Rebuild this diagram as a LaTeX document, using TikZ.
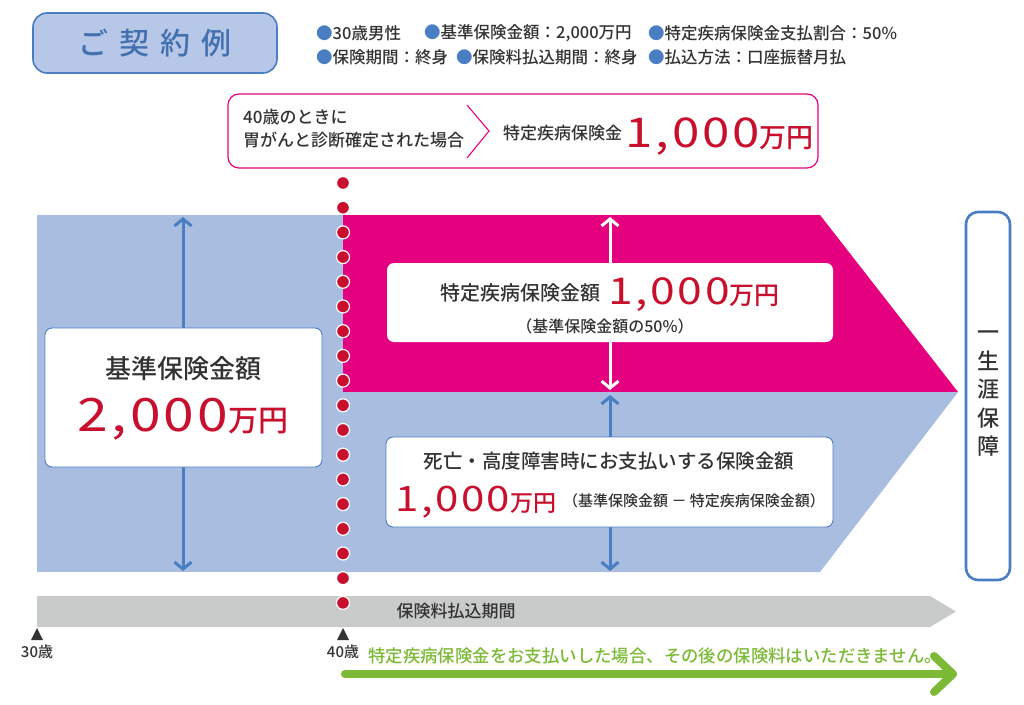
\documentclass[tikz,border=0pt]{standalone}
\usepackage{fontspec}
\setmainfont{Noto Sans CJK JP}[UprightFont={* Medium}]
\newfontfamily\numfont[LetterSpace=6]{Noto Sans CJK JP}
\usetikzlibrary{arrows.meta}
\definecolor{lb}{HTML}{A9BDE1}
\definecolor{tb}{HTML}{B7C7E7}
\definecolor{bl}{HTML}{4A7EC2}
\definecolor{mg}{HTML}{E4007F}
\definecolor{rd}{HTML}{C8102E}
\definecolor{gy}{HTML}{C9CACA}
\definecolor{gr}{HTML}{7CBA35}
\definecolor{dk}{HTML}{333333}
\newcommand{\fs}[1]{\fontsize{#1}{#1}\selectfont}
\newcommand{\manyen}[3]{\scalebox{1.2}[1]{\numfont\fs{#1}#3}{\fs{#2}万円}}
\newcommand{\bul}{\textcolor{bl}{●}}
\tikzset{
  x=1pt, y=-1pt,
  txt/.style={inner sep=0pt, text=dk},
  whitebox/.style={fill=white, rounded corners=7pt},
  dimarrow/.style={line width=3pt, {Straight Barb[length=7pt,width=17pt]}-{Straight Barb[length=7pt,width=17pt]}},
  dot/.style={circle, fill=rd, draw=white, line width=1.2pt, minimum size=13pt, inner sep=0pt},
}
\begin{document}
\begin{tikzpicture}
\useasboundingbox (0,0) rectangle (1024,704);
\fill[white] (0,0) rectangle (1024,704);
% title
\node[draw=bl, fill=tb, line width=1.6pt, rounded corners=14pt, minimum width=244pt, minimum height=60pt, inner sep=0pt] (title) at (155,43) {};
\node[inner sep=0pt, text=bl!90!black] (titletext) at (title.center) {\fs{30}ご\hspace{11pt}契\hspace{11pt}約\hspace{11pt}例};
% info lines
\begin{scope}[every node/.style={txt, anchor=west}]
\node (i1) at (316,33) {\fs{16.5}\bul 30歳男性};
\node (i2) at (424,33) {\fs{16.5}\bul 基準保険金額：2,000万円};
\node (i3) at (648,33) {\fs{16.5}\bul 特定疾病保険金支払割合：50\%};
\node (i4) at (316,57) {\fs{16.5}\bul 保険期間：終身};
\node (i5) at (456,57) {\fs{16.5}\bul 保険料払込期間：終身};
\node (i6) at (648,57) {\fs{16.5}\bul 払込方法：口座振替月払};
\end{scope}
% callout
\node[draw=mg, line width=1.2pt, rounded corners=11pt, minimum width=590pt, minimum height=74pt, inner sep=0pt] (callout) at (523,131) {};
\node[txt, anchor=west, align=left, font=\fs{17}] (ct1) at (243,129) {40歳のときに\\[6pt]胃がんと診断確定された場合};
\coordinate (cv1) at (467,105);
\coordinate (cv2) at (489,131);
\coordinate (cv3) at (467,158);
\draw[mg, line width=1.1pt] (cv1) -- (cv2) -- (cv3);
\node[txt, anchor=base west] (ct2) at (503,139) {\fs{17}特定疾病保険金};
\node[inner sep=0pt, anchor=base west, text=rd] (ct3) at (625,147) {\manyen{41}{27}{1,000}};
% background shapes
\fill[lb] (37,215) rectangle (343,572);
\fill[mg] (343,215) -- (820,215) -- (958,392) -- (343,392) -- cycle;
\fill[lb] (343,392) -- (958,392) -- (820,572) -- (343,572) -- cycle;
% arrows
\coordinate (la1) at (183,217);
\coordinate (la2) at (183,571);
\draw[dimarrow, bl] (la1) -- (la2);
\coordinate (wa1) at (610,217);
\coordinate (wa2) at (610,390);
\draw[dimarrow, white] (wa1) -- (wa2);
\coordinate (ba1) at (610,395);
\coordinate (ba2) at (610,571);
\draw[dimarrow, bl] (ba1) -- (ba2);
% left box
\node[whitebox, draw=bl, line width=0.9pt, minimum width=277pt, minimum height=139pt, inner sep=0pt] (lbox) at (183.5,397.5) {};
\node[txt] (lt1) at (183,369) {\fs{26}基準保険金額};
\node[inner sep=0pt, anchor=base, text=rd] (lt2) at (183,431) {\manyen{46}{30}{2,000}};
% top magenta box
\node[whitebox, minimum width=446pt, minimum height=79pt, inner sep=0pt] (mbox) at (610,302.5) {};
\node[txt, anchor=base west] (mt1) at (440,300) {\fs{20}特定疾病保険金額};
\node[inner sep=0pt, anchor=base west, text=rd] (mt2) at (608,304) {\manyen{37}{25}{1,000}};
\node[txt] (mt3) at (605,326) {\fs{16}（基準保険金額の50\%）};
% lower box
\node[whitebox, draw=bl, line width=0.9pt, minimum width=447pt, minimum height=90pt, inner sep=0pt] (bbox) at (609.5,482) {};
\node[txt] (bt1) at (609,461) {\fs{19.5}死亡・高度障害時にお支払いする保険金額};
\node[inner sep=0pt, anchor=base west, text=rd] (bt2) at (395,511) {\manyen{35}{23}{1,000}};
\node[txt, anchor=base west] (bt3) at (563,506) {\fs{15}（基準保険金額 － 特定疾病保険金額）};
% right box
\node[draw=bl, line width=2.6pt, fill=white, rounded corners=12pt, minimum width=44pt, minimum height=368pt, inner sep=0pt] (rbox) at (988,396) {};
\node[txt, align=center, font=\fontsize{22}{28.5}\selectfont] (rt) at (988,394) {一\\生\\涯\\保\\障};
% gray bar
\fill[gy] (37,596) -- (930,596) -- (956,611.5) -- (930,627) -- (37,627) -- cycle;
\node[txt] (gt) at (456,611) {\fs{17}保険料払込期間};
% dots
\foreach \k in {0,...,17} {
  \node[dot] (d\k) at (343,{183+24.7*\k}) {};
}
% age markers
\fill[dk] (31,640) -- (43,640) -- (37,628) -- cycle;
\fill[dk] (337,640) -- (349,640) -- (343,628) -- cycle;
\node[txt] (a30) at (37,652) {\fs{15}30歳};
\node[txt] (a40) at (343,652) {\fs{15}40歳};
% green
\node[inner sep=0pt, anchor=west, text=gr] (gtxt) at (368,656) {\fs{17.4}特定疾病保険金をお支払いした場合、その後の保険料はいただきません。};
\coordinate (g1) at (345,674);
\coordinate (g2) at (953,674);
\coordinate (g3) at (934,656);
\coordinate (g4) at (934,692);
\draw[gr, line width=8pt, line cap=round, line join=round] (g1) -- (g2);
\draw[gr, line width=8pt, line cap=round, line join=round] (g3) -- (g2) -- (g4);
\end{tikzpicture}
\end{document}
